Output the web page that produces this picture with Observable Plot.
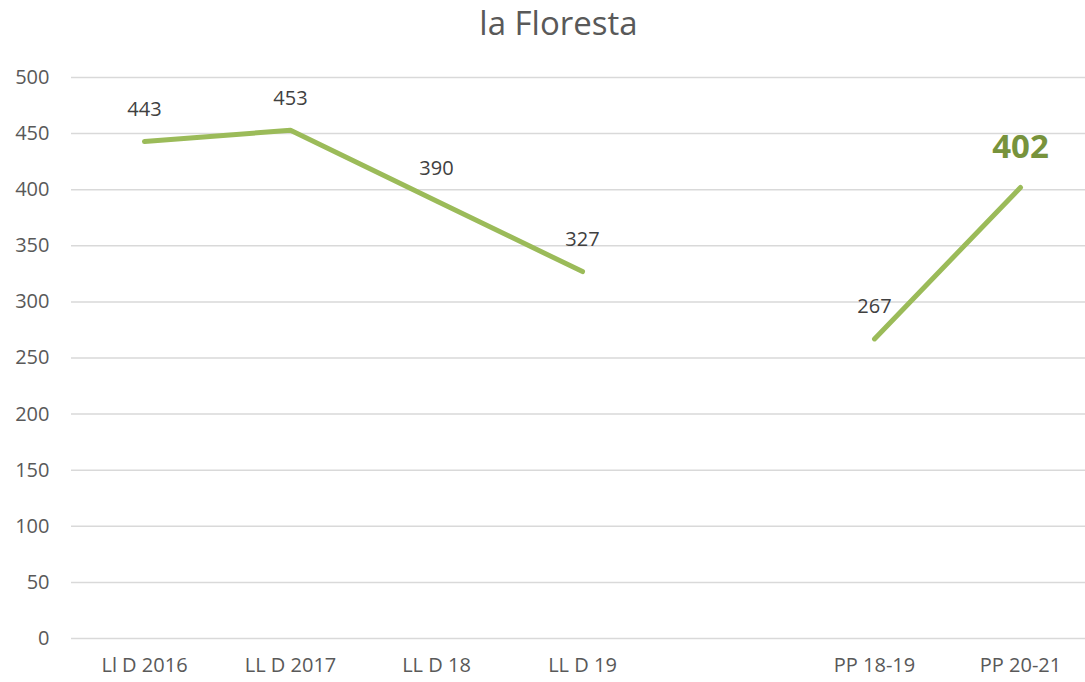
<!DOCTYPE html>
<html>
<head>
<meta charset="utf-8">
<script src="https://cdn.jsdelivr.net/npm/d3@7"></script>
<script src="https://cdn.jsdelivr.net/npm/@observablehq/plot@0.6"></script>
<style>
  html, body { margin: 0; padding: 0; background: #fff; overflow: hidden; }
  #title { height: 50px; line-height: 46px; text-align: center; font-family: "Open Sans", sans-serif; font-size: 33px; color: #595959; padding-left: 32px; }
</style>
</head>
<body>
<div id="title">la Floresta</div>
<div id="chart"></div>
<script>
const categories = ["Ll D 2016", "LL D 2017", "LL D 18", "LL D 19", " ", "PP 18-19", "PP 20-21"];
const values = [443, 453, 390, 327, null, 267, 402];
const highlightIndex = 6;
const yTicks = [0, 50, 100, 150, 200, 250, 300, 350, 400, 450, 500];

const data = categories.map((c, i) => ({cat: c, v: values[i], i}));
const normal = data.filter(d => d.v != null && d.i !== highlightIndex);
const highlight = data.filter(d => d.i === highlightIndex);

const chart = Plot.plot({
  width: 1085,
  height: 632,
  marginTop: 27,
  marginBottom: 44,
  marginLeft: 71,
  marginRight: -8,
  style: {fontFamily: "Open Sans, sans-serif", fontSize: "20px", color: "#595959", background: "#fff", overflow: "hidden"},
  x: {type: "point", domain: categories, padding: 0.5, align: 0.5, label: null},
  y: {domain: [0, 500], ticks: yTicks, label: null},
  marks: [
    Plot.gridY(yTicks, {stroke: "#d9d9d9", strokeOpacity: 1, strokeWidth: 1.5}),
    Plot.axisY(yTicks, {tickSize: 0, tickPadding: 22, fill: "#595959", fontSize: 20, label: null}),
    Plot.axisX({tickSize: 0, tickPadding: 19, fill: "#595959", fontSize: 20, label: null, tickFormat: d => d.trim()}),
    Plot.line(data, {x: "cat", y: d => d.v == null ? NaN : d.v, stroke: "#9bbb59", strokeWidth: 5, strokeLinecap: "round", strokeLinejoin: "round"}),
    Plot.text(normal, {x: "cat", y: "v", text: d => String(d.v), dy: -32, fill: "#404040", fontSize: 20}),
    Plot.text(highlight, {x: "cat", y: "v", text: d => String(d.v), dy: -40, fill: "#77933c", fontSize: 33, fontWeight: "bold"})
  ]
});
document.getElementById("chart").appendChild(chart);
</script>
</body>
</html>
